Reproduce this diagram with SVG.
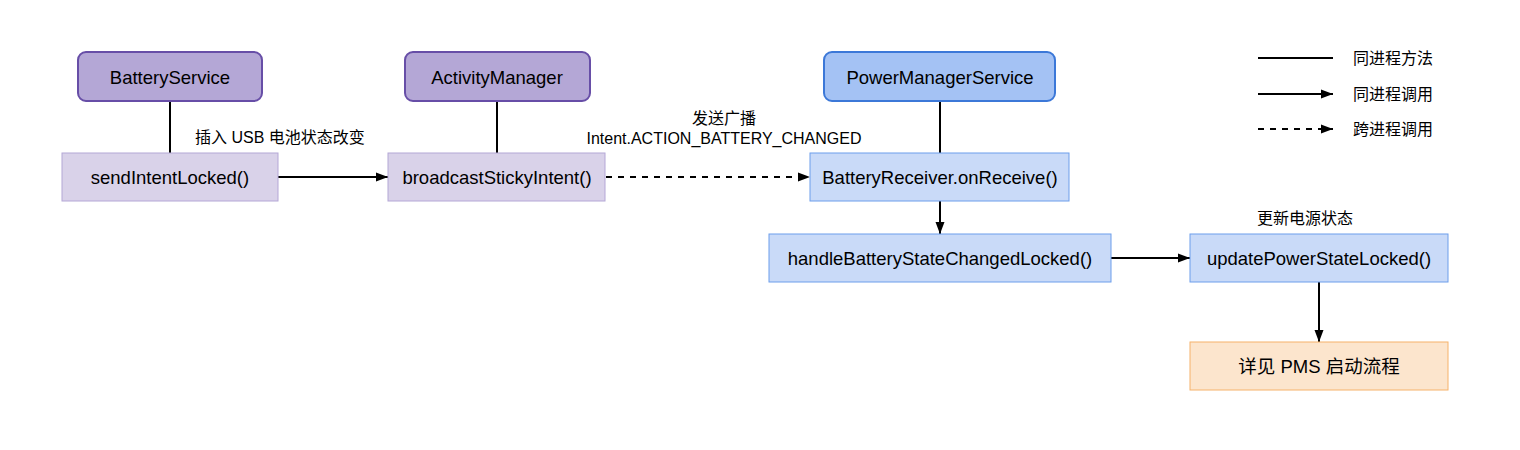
<svg xmlns="http://www.w3.org/2000/svg" width="1520" height="450" viewBox="0 0 1520 450">
<defs>
<marker id="arr" viewBox="0 0 12 10" refX="12" refY="5" markerWidth="12" markerHeight="10" markerUnits="userSpaceOnUse" orient="auto">
<path d="M0,0.5 L12,5 L0,9.5 Z" fill="#000"/>
</marker>
<style>
text{font-family:"Liberation Sans","Noto Sans CJK SC",sans-serif;fill:#000}
.t{font-size:18.5px;text-anchor:middle;dominant-baseline:central}
.l{font-size:16px}
.lc{font-size:16px;text-anchor:middle}
.pur{fill:#b4a7d6;stroke:#674ea7;stroke-width:2}
.purl{fill:#d9d2e9;stroke:#b4a7d6;stroke-width:1}
.blu{fill:#a4c2f4;stroke:#3c78d8;stroke-width:2}
.blul{fill:#c9daf8;stroke:#6d9eeb;stroke-width:1}
.org{fill:#fce5cd;stroke:#f6b26b;stroke-width:1}
.c{stroke:#000;stroke-width:2;fill:none}
.d{stroke-dasharray:6,6}
</style>
</defs>
<rect width="1520" height="450" fill="#fff"/>
<g id="connectors">
<line class="c" x1="170" y1="101" x2="170" y2="153"/>
<line class="c" x1="497" y1="101" x2="497" y2="153"/>
<line class="c" x1="940" y1="101" x2="940" y2="153"/>
<line class="c" x1="278" y1="177" x2="388" y2="177" marker-end="url(#arr)"/>
<line class="c d" x1="606" y1="177" x2="810" y2="177" marker-end="url(#arr)"/>
<line class="c" x1="940" y1="201" x2="940" y2="234" marker-end="url(#arr)"/>
<line class="c" x1="1111" y1="258" x2="1190" y2="258" marker-end="url(#arr)"/>
<line class="c" x1="1319" y1="282" x2="1319" y2="342" marker-end="url(#arr)"/>
<text class="l" x="195" y="143">插入 USB 电池状态改变</text>
<text class="lc" x="724" y="124">发送广播</text>
<text class="lc" x="724" y="144">Intent.ACTION_BATTERY_CHANGED</text>
<text class="lc" x="1305" y="224">更新电源状态</text>
</g>
<g id="BatteryService"><rect class="pur" x="78" y="52" width="184" height="49" rx="8"/><text class="t" x="170" y="77">BatteryService</text></g>
<g id="ActivityManager"><rect class="pur" x="405" y="52" width="185" height="49" rx="8"/><text class="t" x="497" y="77">ActivityManager</text></g>
<g id="PowerManagerService"><rect class="blu" x="824" y="52" width="231" height="49" rx="8"/><text class="t" x="940" y="77">PowerManagerService</text></g>
<g id="sendIntentLocked"><rect class="purl" x="62" y="153" width="216" height="48"/><text class="t" x="170" y="177">sendIntentLocked()</text></g>
<g id="broadcastStickyIntent"><rect class="purl" x="388" y="153" width="217" height="48"/><text class="t" x="497" y="177">broadcastStickyIntent()</text></g>
<g id="BatteryReceiver"><rect class="blul" x="810" y="153" width="259" height="48"/><text class="t" x="940" y="177">BatteryReceiver.onReceive()</text></g>
<g id="handleBatteryStateChangedLocked"><rect class="blul" x="769" y="234" width="342" height="48"/><text class="t" x="940" y="258">handleBatteryStateChangedLocked()</text></g>
<g id="updatePowerStateLocked"><rect class="blul" x="1190" y="234" width="258" height="48"/><text class="t" x="1319" y="258">updatePowerStateLocked()</text></g>
<g id="PMSStart"><rect class="org" x="1190" y="342" width="258" height="48"/><text class="t" x="1319" y="366">详见 PMS 启动流程</text></g>
<g id="legend">
<line class="c" x1="1258" y1="58" x2="1333" y2="58"/>
<line class="c" x1="1258" y1="94" x2="1333" y2="94" marker-end="url(#arr)"/>
<line class="c d" x1="1258" y1="129" x2="1333" y2="129" marker-end="url(#arr)"/>
<text class="l" x="1353" y="64">同进程方法</text>
<text class="l" x="1353" y="100">同进程调用</text>
<text class="l" x="1353" y="135">跨进程调用</text>
</g>
</svg>
